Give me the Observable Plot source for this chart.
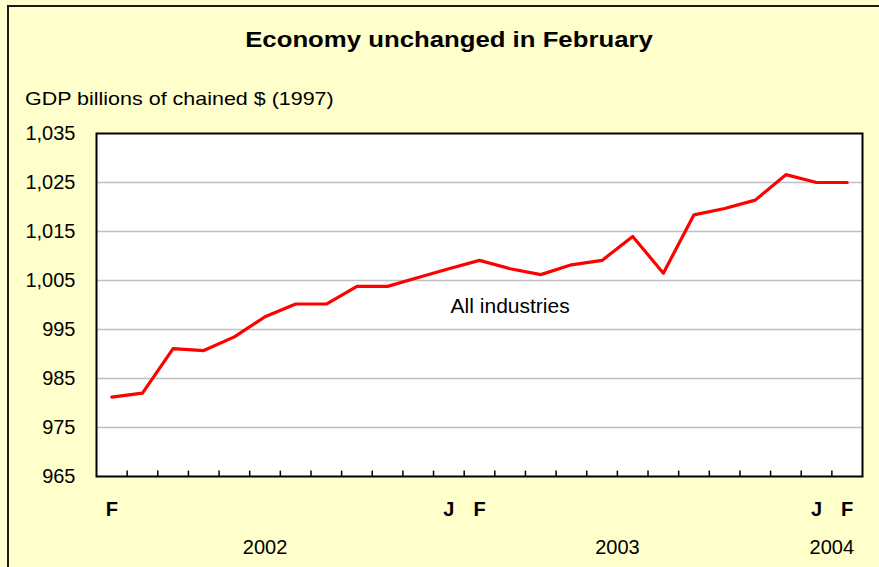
<!DOCTYPE html>
<html>
<head>
<meta charset="utf-8">
<script src="https://cdn.jsdelivr.net/npm/d3@7"></script>
<script src="https://cdn.jsdelivr.net/npm/@observablehq/plot@0.6"></script>
<style>
  html, body { margin: 0; padding: 0; background: #FFFFCC; }
  #wrap { position: relative; width: 879px; height: 567px; overflow: hidden; background: #FFFFCC;
          font-family: "Liberation Sans", Arial, sans-serif; color: #000; }
  #outer { position: absolute; left: 7px; top: 5px; width: 1000px; height: 1000px;
           border-left: 2px solid #1a1a1a; border-top: 2px solid #1a1a1a; box-sizing: border-box; }
  #title { position: absolute; left: 0; width: 898px; top: 29px; text-align: center; font-size: 22px;
           line-height: 22px; font-weight: bold; transform: scaleX(1.17); transform-origin: 449px 0; white-space: nowrap; }
  #subtitle { position: absolute; left: 25px; top: 89px; font-size: 19px; line-height: 19px;
              transform: scaleX(1.13); transform-origin: 0 0; white-space: nowrap; }
  #chart { position: absolute; left: 0; top: 115px; }
</style>
</head>
<body>
<div id="wrap">
  <div id="outer"></div>
  <div id="title">Economy unchanged in February</div>
  <div id="subtitle">GDP billions of chained $ (1997)</div>
  <div id="chart"></div>
</div>
<script>
const months = ["Feb 2002","Mar 2002","Apr 2002","May 2002","Jun 2002","Jul 2002","Aug 2002","Sep 2002","Oct 2002","Nov 2002","Dec 2002",
  "Jan 2003","Feb 2003","Mar 2003","Apr 2003","May 2003","Jun 2003","Jul 2003","Aug 2003","Sep 2003","Oct 2003","Nov 2003","Dec 2003",
  "Jan 2004","Feb 2004"];
const gdp = [981.2, 982.0, 991.1, 990.7, 993.5, 997.6, 1000.2, 1000.2, 1003.8, 1003.8, 1005.6,
  1007.4, 1009.1, 1007.4, 1006.2, 1008.2, 1009.1, 1014.0, 1006.5, 1018.4, 1019.7, 1021.4, 1026.6,
  1025.0, 1025.0];
const monthLabelAt = ["Feb 2002","Jan 2003","Feb 2003","Jan 2004","Feb 2004"];
const monthLabelText = ["F","J","F","J","F"];
const years = ["2002","2003","2004"];
const yTicks = [965, 975, 985, 995, 1005, 1015, 1025, 1035];
const gridValues = [975, 985, 995, 1005, 1015, 1025];
const seriesLabel = "All industries";
const seriesLabelAt = "Mar 2003";
const seriesLabelValue = 999.8;

const data = months.map((m, i) => ({i, m, v: gdp[i]}));
const boundaries = d3.range(1, months.length).map(i => i - 0.5);
const monthTickIdx = monthLabelAt.map(m => months.indexOf(m));
const yearPos = years.map(y => d3.mean(months.map((m, i) => m.endsWith(y) ? i : null).filter(d => d !== null)));

const chart = Plot.plot({
  width: 879,
  height: 452,
  marginLeft: 96,
  marginRight: 17,
  marginTop: 18,
  marginBottom: 91,
  style: {background: "transparent", fontFamily: "'Liberation Sans', Arial, sans-serif", color: "#000", overflow: "visible"},
  x: {domain: [-0.5, months.length - 0.5], label: null},
  y: {domain: [965, 1035], label: null},
  marks: [
    Plot.frame({fill: "white"}),
    Plot.ruleY(gridValues, {stroke: "#C0C0C0", strokeWidth: 1.5}),
    Plot.ruleX(boundaries, {y1: 965, y2: 966.1, stroke: "#000", strokeWidth: 1.5}),
    Plot.line(data, {x: "i", y: "v", stroke: "#FF0000", strokeWidth: 3.2}),
    Plot.text([seriesLabel], {x: months.indexOf(seriesLabelAt), y: seriesLabelValue, text: d => d, fontSize: 21, fill: "#000"}),
    Plot.frame({stroke: "#000", strokeWidth: 2}),
    Plot.axisY(yTicks, {tickFormat: d3.format(","), tickSize: 0, tickPadding: 21, fontSize: 20, label: null}),
    Plot.axisX(monthTickIdx, {tickFormat: (d, k) => monthLabelText[k], tickSize: 0, tickPadding: 25, fontSize: 20, fontWeight: "bold", label: null}),
    Plot.axisX(yearPos, {tickFormat: (d, k) => years[k], tickSize: 0, tickPadding: 63, fontSize: 20, label: null})
  ]
});
document.getElementById("chart").appendChild(chart);
</script>
</body>
</html>
